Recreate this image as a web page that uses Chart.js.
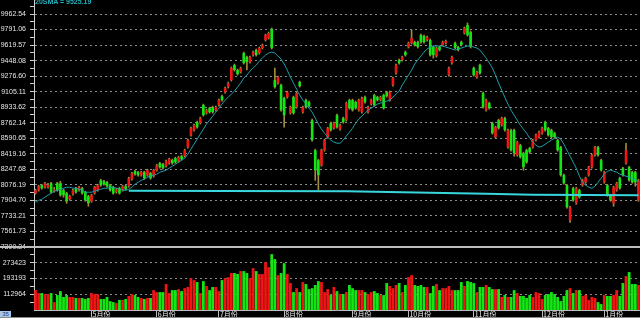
<!DOCTYPE html>
<html>
<head>
<meta charset="utf-8">
<script src="https://cdn.jsdelivr.net/npm/chart.js@4.4.1/dist/chart.umd.min.js"></script>
<style>
  body { margin: 0; background: #000; }
  #wrap { position: relative; width: 640px; height: 318px; overflow: hidden; background: #000; }
  canvas { position: absolute; left: 0; }
  #priceChart { top: 0; }
  #volChart { top: 247px; }
  .sep { position: absolute; left: 0; top: 246px; width: 640px; height: 2px; background: #bdbdbd; }
  .legend { position: absolute; left: 35px; top: -2px; font: bold 7px 'Liberation Sans', Arial, sans-serif; color: #22b4c0; }
  .pager { position: absolute; left: 0; top: 311px; width: 11px; height: 6px; background: #a9c8ea; color: #1c3a78;
           font: 6px 'Liberation Sans', Arial, sans-serif; line-height: 6px; text-align: center; }
  .strip { position: absolute; left: 0; top: 317px; width: 640px; height: 1px; background: #8a8a8a; }
</style>
</head>
<body>
<div id="wrap">
  <canvas id="priceChart" width="640" height="252"></canvas>
  <canvas id="volChart" width="640" height="71"></canvas>
  <div class="sep"></div>
  <div class="strip"></div>
  <div class="pager">35</div>
  <div class="legend">20SMA = 9525.19</div>
</div>
<script>
// trading days per month, Apr .. Jan
const MONTH_NAMES = ['4月', '5月', '6月', '7月', '8月', '9月', '10月', '11月', '12月', '1月'];
const DAYS_PER_MONTH = [18, 21, 20, 21, 22, 18, 21, 22, 20, 12];
const MONTH_LABELS = ['5月份', '6月份', '7月份', '8月份', '9月份', '10月份', '11月份', '12月份', '1月份'];

const PRICE_TICKS = [7390.24, 7561.73, 7733.21, 7904.70, 8076.19, 8247.68, 8419.16, 8590.65,
    8762.14, 8933.62, 9105.11, 9276.60, 9448.08, 9619.57, 9791.06, 9962.54];
const PRICE_MIN = 7390.24;
const PRICE_MAX = 10117.3;
const VOLUME_TICKS = [112964, 193193, 273423];
const VOLUME_MIN = 32735;
const VOLUME_MAX = 353652;

const OPEN = [
    7984, 8017, 8072, 8050, 8050, 8094, 8006, 8094, 8094, 8017,
    7984, 7917, 7973, 8039, 8017, 8039, 7995, 7951, 7895, 7984,
    8017, 8127, 8116, 8105, 8072, 8050, 7995, 8039, 8017, 8061,
    8061, 8139, 8227, 8216, 8183, 8216, 8183, 8205, 8172, 8238,
    8315, 8304, 8282, 8315, 8349, 8371, 8337, 8393, 8393, 8492,
    8625, 8680, 8769, 8758, 8957, 8868, 8923, 8934, 8901, 8957,
    9056, 9100, 9156, 9233, 9399, 9344, 9321, 9531, 9487, 9432,
    9509, 9565, 9531, 9587, 9675, 9697, 9797, 9233, 9200, 9178,
    9034, 9045, 8868, 9045, 8934, 9211, 8879, 9012, 8990, 8791,
    8459, 8349, 8293, 8459, 8603, 8758, 8702, 8846, 8691, 8813,
    8791, 9012, 9012, 8990, 8901, 8879, 9045, 8879, 8968, 9067,
    9045, 9012, 9067, 9100, 9012, 9178, 9310, 9454, 9454, 9542,
    9598, 9642, 9653, 9653, 9730, 9719, 9675, 9675, 9598, 9498,
    9598, 9620, 9642, 9288, 9421, 9642, 9598, 9653, 9753, 9841,
    9764, 9366, 9266, 9399, 9089, 8901, 8979, 8758, 8603, 8791,
    8735, 8813, 8492, 8680, 8680, 8404, 8514, 8426, 8459, 8481,
    8492, 8570, 8603, 8647, 8769, 8702, 8680, 8647, 8570, 8492,
    8183, 8072, 7685, 8039, 7873, 8017, 8072, 8105, 8183, 8271,
    8404, 8492, 8349, 8105, 8072, 7962, 7873, 8017, 8150, 8260,
    8315, 8271, 8216, 8216, 7906
];
const HIGH = [
    8028, 8072, 8083, 8105, 8094, 8105, 8050, 8105, 8116, 8028,
    7995, 7962, 8028, 8050, 8061, 8050, 8006, 7962, 7973, 8061,
    8083, 8138, 8127, 8116, 8083, 8061, 8039, 8050, 8072, 8072,
    8161, 8216, 8238, 8227, 8227, 8227, 8249, 8216, 8249, 8304,
    8326, 8315, 8349, 8371, 8360, 8382, 8393, 8404, 8470, 8581,
    8713, 8747, 8780, 8824, 8968, 8912, 8934, 8946, 8946, 9023,
    9067, 9156, 9211, 9377, 9410, 9355, 9377, 9542, 9498, 9498,
    9554, 9576, 9598, 9631, 9741, 9764, 9808, 9366, 9277, 9189,
    9045, 9111, 8946, 9056, 9100, 9222, 8946, 9023, 9001, 8802,
    8470, 8360, 8470, 8581, 8713, 8769, 8769, 8857, 8747, 8824,
    8990, 9023, 9023, 9001, 9023, 9045, 9056, 8946, 9023, 9078,
    9056, 9056, 9078, 9111, 9111, 9266, 9410, 9465, 9498, 9554,
    9653, 9786, 9664, 9664, 9741, 9730, 9719, 9686, 9609, 9598,
    9609, 9664, 9675, 9377, 9498, 9653, 9609, 9664, 9819, 9863,
    9775, 9377, 9332, 9410, 9100, 9023, 8990, 8769, 8724, 8802,
    8824, 8824, 8691, 8691, 8691, 8559, 8525, 8437, 8470, 8492,
    8581, 8636, 8669, 8713, 8780, 8713, 8691, 8658, 8581, 8503,
    8194, 8083, 7840, 8050, 8050, 8028, 8139, 8161, 8282, 8415,
    8503, 8503, 8360, 8227, 8083, 7973, 8061, 8105, 8161, 8271,
    8536, 8282, 8227, 8227, 8139
];
const LOW = [
    7973, 8006, 8028, 8039, 8039, 7984, 7995, 8006, 7951, 7940,
    7873, 7906, 7962, 7984, 8006, 7973, 7895, 7840, 7884, 7973,
    8006, 8061, 8072, 8050, 8006, 7973, 7984, 7973, 8006, 8017,
    8050, 8127, 8183, 8172, 8172, 8139, 8172, 8139, 8161, 8227,
    8260, 8249, 8271, 8304, 8304, 8315, 8326, 8349, 8382, 8481,
    8614, 8669, 8702, 8747, 8835, 8857, 8868, 8868, 8890, 8946,
    9001, 9089, 9145, 9222, 9332, 9288, 9310, 9410, 9344, 9421,
    9498, 9498, 9520, 9576, 9664, 9686, 9576, 9145, 9189, 8890,
    8713, 9034, 8857, 8857, 8923, 9156, 8868, 8923, 8934, 8559,
    8127, 8017, 8282, 8448, 8592, 8669, 8691, 8702, 8680, 8758,
    8780, 8912, 8890, 8912, 8890, 8868, 8979, 8868, 8957, 8946,
    9001, 9001, 8912, 9045, 9001, 9167, 9299, 9410, 9443, 9498,
    9587, 9631, 9609, 9587, 9642, 9642, 9664, 9498, 9476, 9487,
    9554, 9609, 9631, 9277, 9410, 9576, 9554, 9609, 9741, 9719,
    9587, 9277, 9255, 9299, 8923, 8890, 8912, 8636, 8592, 8691,
    8724, 8669, 8481, 8448, 8393, 8393, 8371, 8238, 8315, 8426,
    8481, 8559, 8592, 8636, 8669, 8614, 8592, 8592, 8448, 8172,
    8083, 7818, 7663, 7895, 7862, 7928, 8061, 8094, 8172, 8260,
    8393, 8393, 8227, 8094, 7951, 7895, 7840, 8006, 8028, 8172,
    8304, 8116, 8094, 8061, 7895
];
const CLOSE = [
    8017, 8061, 8039, 8094, 8072, 7995, 8028, 8017, 7962, 7962,
    7895, 7951, 8017, 7995, 8050, 7984, 7906, 7873, 7962, 8050,
    8072, 8072, 8083, 8061, 8017, 7984, 8028, 7984, 8061, 8028,
    8150, 8205, 8194, 8183, 8216, 8150, 8238, 8150, 8238, 8293,
    8271, 8260, 8337, 8360, 8315, 8326, 8382, 8360, 8459, 8570,
    8702, 8735, 8713, 8813, 8846, 8901, 8879, 8879, 8934, 9012,
    9012, 9145, 9200, 9366, 9344, 9299, 9366, 9421, 9432, 9487,
    9542, 9509, 9587, 9620, 9730, 9753, 9587, 9156, 9266, 8901,
    8846, 9100, 8934, 8868, 9089, 9167, 8934, 8934, 8946, 8570,
    8238, 8183, 8459, 8570, 8702, 8680, 8758, 8713, 8735, 8769,
    8979, 8923, 8901, 8923, 9012, 9034, 8990, 8934, 9012, 8957,
    9012, 9045, 8923, 9056, 9100, 9255, 9399, 9421, 9487, 9509,
    9642, 9697, 9620, 9598, 9653, 9653, 9708, 9509, 9509, 9587,
    9565, 9653, 9664, 9366, 9487, 9587, 9565, 9620, 9808, 9730,
    9598, 9288, 9321, 9310, 8934, 9012, 8923, 8647, 8713, 8702,
    8813, 8680, 8680, 8459, 8426, 8548, 8382, 8271, 8326, 8437,
    8570, 8625, 8658, 8702, 8680, 8625, 8603, 8603, 8459, 8183,
    8094, 7829, 7829, 7906, 8039, 7940, 8127, 8150, 8271, 8404,
    8492, 8404, 8238, 8216, 7962, 7906, 8050, 8094, 8039, 8183,
    8459, 8127, 8105, 8105, 8127
];
const VOLUME = [
    134000, 119000, 119000, 114000, 114000, 119000, 73000, 109000, 129000, 99000,
    109000, 99000, 99000, 94000, 94000, 94000, 89000, 94000, 119000, 114000,
    114000, 89000, 89000, 99000, 78000, 73000, 68000, 84000, 84000, 89000,
    104000, 114000, 109000, 99000, 94000, 89000, 94000, 94000, 134000, 124000,
    124000, 124000, 165000, 119000, 134000, 134000, 139000, 129000, 144000, 150000,
    195000, 185000, 175000, 119000, 180000, 155000, 134000, 150000, 150000, 129000,
    185000, 195000, 200000, 221000, 221000, 216000, 231000, 231000, 221000, 195000,
    246000, 231000, 216000, 216000, 276000, 251000, 317000, 292000, 210000, 221000,
    271000, 216000, 170000, 124000, 144000, 124000, 175000, 165000, 139000, 144000,
    160000, 180000, 175000, 124000, 139000, 109000, 150000, 129000, 114000, 114000,
    124000, 160000, 144000, 134000, 134000, 134000, 124000, 114000, 124000, 129000,
    119000, 109000, 109000, 170000, 155000, 144000, 160000, 170000, 124000, 160000,
    200000, 210000, 160000, 155000, 160000, 150000, 150000, 119000, 155000, 165000,
    134000, 144000, 144000, 155000, 134000, 134000, 134000, 175000, 155000, 180000,
    175000, 170000, 124000, 150000, 150000, 160000, 150000, 139000, 139000, 139000,
    99000, 109000, 99000, 99000, 134000, 119000, 104000, 104000, 94000, 109000,
    99000, 124000, 119000, 89000, 109000, 114000, 124000, 114000, 99000, 78000,
    104000, 134000, 144000, 119000, 134000, 134000, 104000, 109000, 84000, 99000,
    94000, 73000, 63000, 109000, 104000, 104000, 109000, 134000, 104000, 170000,
    205000, 226000, 165000, 165000, 160000
];
const MA20 = [
    7884, 7906, 7917, 7940, 7962, 7984, 8006, 8017, 8028, 8039,
    8050, 8050, 8039, 8039, 8028, 8017, 7995, 7995, 7995, 8006,
    8017, 8028, 8039, 8039, 8050, 8050, 8039, 8028, 8017, 8017,
    8028, 8050, 8083, 8105, 8127, 8138, 8161, 8172, 8183, 8194,
    8216, 8227, 8238, 8260, 8282, 8304, 8326, 8349, 8371, 8415,
    8470, 8525, 8581, 8636, 8691, 8747, 8791, 8835, 8879, 8923,
    8968, 9012, 9045, 9078, 9111, 9156, 9200, 9255, 9288, 9332,
    9366, 9399, 9443, 9476, 9509, 9531, 9542, 9531, 9498, 9465,
    9410, 9343, 9266, 9200, 9133, 9067, 9012, 8968, 8923, 8879,
    8813, 8747, 8691, 8647, 8603, 8570, 8548, 8536, 8536, 8570,
    8614, 8658, 8702, 8758, 8802, 8835, 8868, 8901, 8923, 8946,
    8968, 8979, 8990, 9001, 9012, 9045, 9078, 9111, 9178, 9233,
    9288, 9343, 9410, 9454, 9498, 9542, 9576, 9598, 9609, 9609,
    9609, 9609, 9598, 9587, 9576, 9565, 9576, 9587, 9598, 9609,
    9609, 9598, 9587, 9565, 9520, 9476, 9421, 9366, 9288, 9200,
    9122, 9045, 8968, 8901, 8846, 8791, 8735, 8691, 8647, 8592,
    8548, 8514, 8492, 8503, 8525, 8548, 8570, 8592, 8603, 8581,
    8525, 8459, 8393, 8326, 8260, 8172, 8105, 8072, 8050, 8039,
    8061, 8105, 8150, 8194, 8227, 8238, 8227, 8216, 8194, 8183,
    8172, 8161, 8150, 8127, 8116
];
// long flat reference line: [bar index, value]
const TREND_POINTS = [[30, 8011], [60, 8009], [100, 8006], [145, 7978], [160, 7967], [194, 7962]];

const UP_COLOR = '#f01414';
const DOWN_COLOR = '#14e614';
const WICK_COLOR = '#a08c3c';
const GRID_COLOR = '#8c8c8c';
const AXIS_COLOR = '#cfcfcf';
const LABEL_FONT = { family: "'Liberation Sans Narrow', 'Liberation Sans', Arial, sans-serif", size: 7 };

// categories: one per trading day
const labels = [];
const monthStarts = [];
DAYS_PER_MONTH.forEach((n, m) => {
    if (m > 0) monthStarts.push(labels.length);
    for (let d = 1; d <= n; d++) labels.push(MONTH_NAMES[m] + d);
});

const candleColors = CLOSE.map((c, i) => c >= OPEN[i] ? UP_COLOR : DOWN_COLOR);
const bodies = OPEN.map((o, i) => [o, CLOSE[i]]);
const wicks = LOW.map((l, i) => [l, HIGH[i]]);
const trend = labels.map(() => null);
TREND_POINTS.forEach(([i, v]) => { trend[i] = v; });

function axisTicks(major, min, max) {
    const step = major[1] - major[0];
    const out = [];
    major.forEach(v => {
        out.push({ value: v - step / 2, major: false });
        out.push({ value: v, major: true });
    });
    out.push({ value: major[major.length - 1] + step / 2, major: false });
    return out.filter(t => t.value >= min && t.value <= max);
}

function yAxis(min, max, ticks, fmt) {
    return {
        min: min,
        max: max,
        afterBuildTicks: axis => { axis.ticks = ticks.map(t => ({ value: t.value, major: t.major })); },
        afterFit: axis => { axis.width = 34; axis.paddingTop = 0; axis.paddingBottom = 0; },
        grid: {
            color: ctx => (ctx.tick && ctx.tick.major) ? GRID_COLOR : 'rgba(0,0,0,0)',
            tickColor: AXIS_COLOR,
            tickLength: 4,
            lineWidth: 1
        },
        border: { color: AXIS_COLOR, width: 1, dash: [2, 3] },
        ticks: {
            autoSkip: false,
            padding: 4,
            color: '#e6e6e6',
            font: LABEL_FONT,
            callback: (value, index, all) => all[index].major ? fmt(value) : ''
        }
    };
}

const common = {
    responsive: false,
    animation: false,
    devicePixelRatio: 1,
    events: [],
    plugins: { legend: { display: false }, tooltip: { enabled: false } }
};

new Chart(document.getElementById('priceChart'), {
    type: 'bar',
    data: {
        labels: labels,
        datasets: [
            {
                type: 'line', data: MA20, borderColor: '#1e9ea8', borderWidth: 1,
                pointRadius: 0, tension: 0, order: 0
            },
            {
                type: 'line', data: trend, borderColor: '#3ad6de', borderWidth: 2,
                pointRadius: 0, spanGaps: true, order: 1
            },
            {
                data: bodies, backgroundColor: candleColors, borderWidth: 0, grouped: false,
                categoryPercentage: 0.85, barPercentage: 1, order: 2
            },
            {
                data: wicks, backgroundColor: WICK_COLOR, borderWidth: 0, grouped: false,
                barThickness: 1, order: 3
            }
        ]
    },
    options: Object.assign({}, common, {
        layout: { padding: { left: 0, right: 0, top: 0, bottom: 5 } },
        scales: {
            x: { display: false, offset: true },
            y: yAxis(PRICE_MIN, PRICE_MAX, axisTicks(PRICE_TICKS, PRICE_MIN, PRICE_MAX), v => v.toFixed(2))
        }
    })
});

new Chart(document.getElementById('volChart'), {
    type: 'bar',
    data: {
        labels: labels,
        datasets: [{
            data: VOLUME, backgroundColor: candleColors, borderWidth: 0,
            categoryPercentage: 0.9, barPercentage: 1
        }]
    },
    options: Object.assign({}, common, {
        layout: { padding: 0 },
        scales: {
            x: {
                offset: true,
                afterBuildTicks: axis => { axis.ticks = monthStarts.map(v => ({ value: v })); },
                afterFit: axis => { axis.height = 8; axis.paddingLeft = 0; axis.paddingRight = 0; },
                grid: { offset: false, drawOnChartArea: false, tickLength: 8, color: '#bdbdbd' },
                border: { color: '#bdbdbd', width: 1 },
                ticks: {
                    autoSkip: false, maxRotation: 0, align: 'start', padding: -8, labelOffset: 1,
                    color: '#f0f0f0',
                    font: { family: "'Noto Sans CJK TC', 'Liberation Sans', sans-serif", size: 7 },
                    callback: (value, index) => MONTH_LABELS[index]
                }
            },
            y: yAxis(VOLUME_MIN, VOLUME_MAX, axisTicks(VOLUME_TICKS, VOLUME_MIN, VOLUME_MAX), v => String(Math.round(v)))
        }
    })
});
</script>
</body>
</html>
